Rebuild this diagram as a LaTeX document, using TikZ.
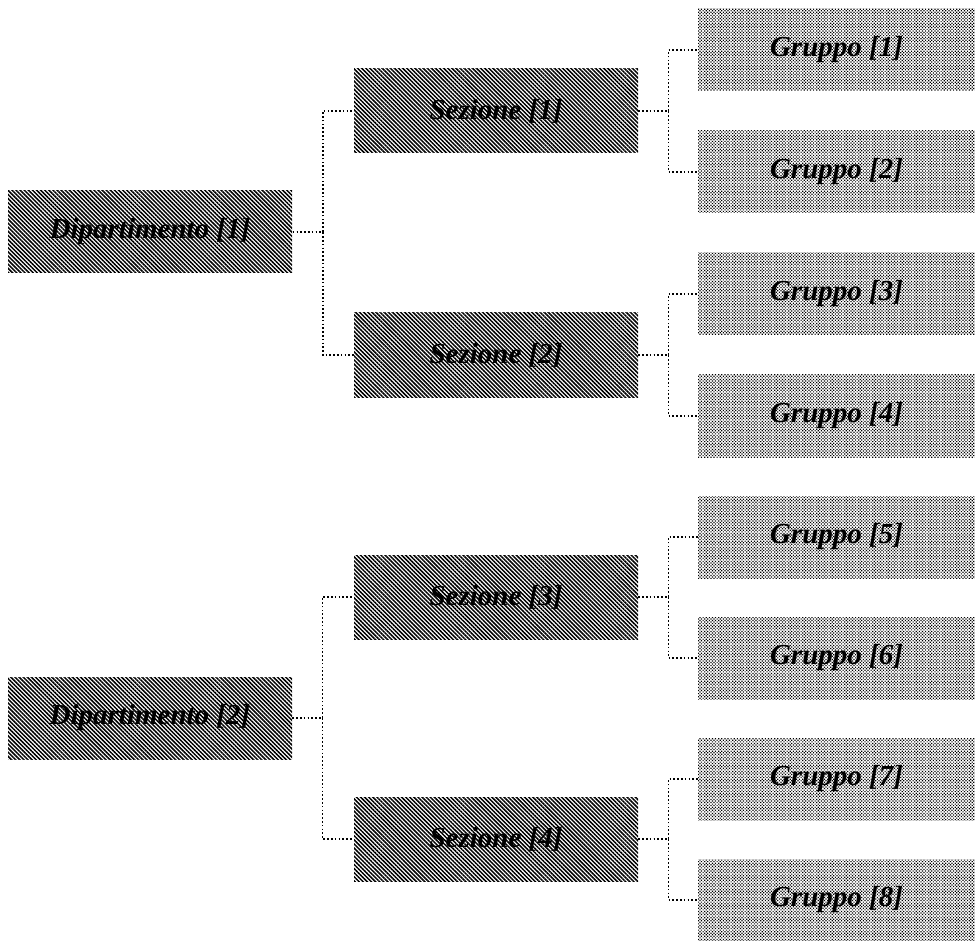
\documentclass[tikz,border=0pt]{standalone}
\usepackage{fontspec}
\setmainfont{Liberation Serif}
\usetikzlibrary{patterns.meta}
\begin{document}
\begin{tikzpicture}[x=0.5pt,y=-0.5pt,
  lbl/.style={font=\fontsize{14.5}{17}\selectfont\bfseries\itshape, text=black, inner sep=0pt},
  dipbox/.style={lbl, minimum width=142pt, minimum height=41pt,
     pattern={Lines[angle=-45,distance=1.45pt,line width=0.75pt]}, pattern color=black},
  sezbox/.style={lbl, minimum width=142pt, minimum height=42pt,
     pattern={Lines[angle=-45,distance=1.45pt,line width=0.75pt]}, pattern color=black},
  grpbox/.style={lbl, minimum width=138.5pt, minimum height=41pt,
     pattern={Dots[angle=45,distance=1.1pt,radius=0.42pt]}, pattern color=black},
  conn/.style={line width=0.85pt, dash pattern=on 0.8pt off 1.1pt}
]
\useasboundingbox (0,0) rectangle (975,941);

\node[dipbox] (d1) at (150,232) {Dipartimento [1]};
\node[dipbox] (d2) at (150,718) {Dipartimento [2]};

\node[sezbox] (s1) at (496,111) {Sezione [1]};
\node[sezbox] (s2) at (496,355) {Sezione [2]};
\node[sezbox] (s3) at (496,597) {Sezione [3]};
\node[sezbox] (s4) at (496,839) {Sezione [4]};

\node[grpbox] (g1) at (836.5,50) {Gruppo [1]};
\node[grpbox] (g2) at (836.5,172) {Gruppo [2]};
\node[grpbox] (g3) at (836.5,294) {Gruppo [3]};
\node[grpbox] (g4) at (836.5,416) {Gruppo [4]};
\node[grpbox] (g5) at (836.5,537) {Gruppo [5]};
\node[grpbox] (g6) at (836.5,658) {Gruppo [6]};
\node[grpbox] (g7) at (836.5,779) {Gruppo [7]};
\node[grpbox] (g8) at (836.5,900) {Gruppo [8]};

\draw[conn] (d1.east) -- ++(30,0) |- (s1.west);
\draw[conn] (d1.east) -- ++(30,0) |- (s2.west);
\draw[conn] (d2.east) -- ++(30,0) |- (s3.west);
\draw[conn] (d2.east) -- ++(30,0) |- (s4.west);

\draw[conn] (s1.east) -- ++(30,0) |- (g1.west);
\draw[conn] (s1.east) -- ++(30,0) |- (g2.west);
\draw[conn] (s2.east) -- ++(30,0) |- (g3.west);
\draw[conn] (s2.east) -- ++(30,0) |- (g4.west);
\draw[conn] (s3.east) -- ++(30,0) |- (g5.west);
\draw[conn] (s3.east) -- ++(30,0) |- (g6.west);
\draw[conn] (s4.east) -- ++(30,0) |- (g7.west);
\draw[conn] (s4.east) -- ++(30,0) |- (g8.west);
\end{tikzpicture}
\end{document}
